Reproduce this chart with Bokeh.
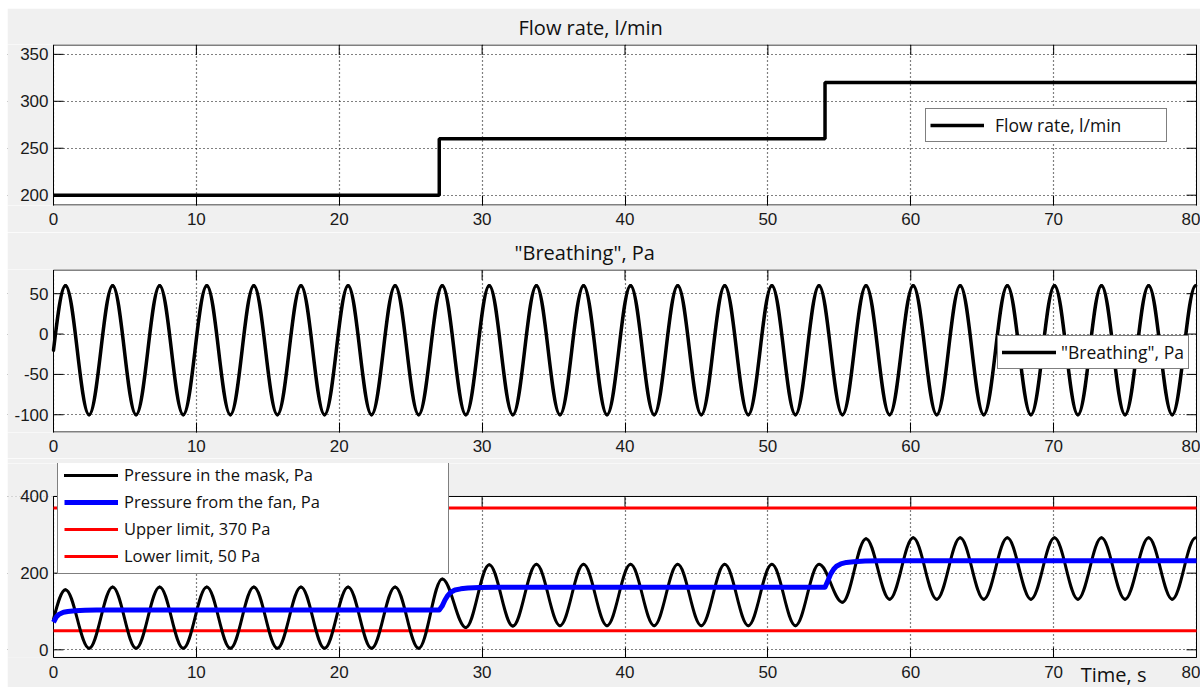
from bokeh.plotting import figure
from bokeh.layouts import column, row
from bokeh.models import (Range1d, FixedTicker, Legend, LegendItem,
                          Label, ColumnDataSource, Spacer)
from bokeh.core.properties import value
from bokeh.embed import file_html
from bokeh.resources import INLINE

# ---------------- data ----------------
x_ticks = [0, 10, 20, 30, 40, 50, 60, 70, 80]

# Flow rate, l/min (step changes)
flow_t = [0, 27, 54, 80]
flow_v = [200, 260, 320, 320]

# "Breathing", Pa : start value then alternating peaks / troughs
breath_t = [0, 0.84, 2.49, 4.14, 5.78, 7.43, 9.08, 10.73, 12.38, 14.02, 15.67,
            17.32, 18.97, 20.62, 22.26, 23.91, 25.56, 27.21, 28.86, 30.50, 32.15,
            33.80, 35.45, 37.10, 38.74, 40.39, 42.04, 43.69, 45.34, 46.98, 48.63,
            50.28, 51.93, 53.58, 55.22, 56.87, 58.52, 60.17, 61.82, 63.46, 65.11,
            66.76, 68.41, 70.06, 71.70, 73.35, 75.00, 76.65, 78.30, 79.94]
breath_v = [-20, 60, -100, 60, -100, 60, -100, 60, -100, 60, -100,
            60, -100, 60, -100, 60, -100, 60, -100, 60, -100,
            60, -100, 60, -100, 60, -100, 60, -100, 60, -100,
            60, -100, 60, -100, 60, -100, 60, -100, 60, -100,
            60, -100, 60, -100, 60, -100, 60, -100, 60]

# Pressure in the mask, Pa : same instants (start value then peaks / troughs)
mask_t = breath_t
mask_v = [80, 157, 4, 164, 4, 164, 4, 164, 4, 164, 4,
          164, 4, 164, 4, 164, 4, 185, 58, 222, 62,
          223, 63, 223, 63, 223, 63, 223, 63, 223, 63,
          223, 63, 223, 124, 290, 132, 292, 132, 292, 132,
          292, 132, 292, 132, 292, 132, 292, 132, 292]

# Pressure from the fan, Pa
fan_t = [0, 0.2, 0.4, 0.7, 1.0, 1.5, 2.2, 3.0, 27.0, 27.2, 27.4, 27.6, 27.8,
         28.1, 28.5, 29.0, 29.8, 31.0, 54.0, 54.2, 54.4, 54.6, 54.8, 55.1,
         55.5, 56.0, 56.8, 58.0, 80.0]
fan_v = [72, 86, 93, 98, 100, 102, 103, 104, 104, 114, 130, 142, 150,
         156, 159, 161, 162.5, 163, 163, 180, 198, 210, 218, 224,
         228, 230, 231.5, 232, 232]

limit_t = [0, 80]
upper_limit = 370
lower_limit = 50

# ---------------- style / layout ----------------
BG = "#f0f0f0"
W = 1193                    # figure width (page x 7 .. 1200)
BOX_LEFT, BOX_RIGHT = 46, 4  # room left / right of the axes box, px
PX_PER_T = (W - BOX_LEFT - BOX_RIGHT) / 80.0
XR = (-BOX_LEFT / PX_PER_T, 80 + BOX_RIGHT / PX_PER_T)
TICK_FONT = "Liberation Sans"
TEXT_FONT = "Open Sans"
TICK_COLOR = "#1a1a1a"
TICK_PX = 10
K = 0.36  # bezier handle fraction for sine-like arcs


def wave_source(ts, vs):
    n = len(ts) - 1
    d = dict(x0=[], y0=[], x1=[], y1=[], cx0=[], cy0=[], cx1=[], cy1=[])
    for i in range(n):
        xa, ya, xb, yb = ts[i], vs[i], ts[i + 1], vs[i + 1]
        dt = xb - xa
        d["x0"].append(xa); d["y0"].append(ya)
        d["x1"].append(xb); d["y1"].append(yb)
        if i == 0:
            d["cx0"].append(xa + dt / 3.0); d["cy0"].append(ya + 0.52 * (yb - ya))
        else:
            d["cx0"].append(xa + K * dt); d["cy0"].append(ya)
        d["cx1"].append(xb - K * dt); d["cy1"].append(yb)
    return ColumnDataSource(d)


def make_fig(height, yr, y_ticks, title, b_top, b_bottom, standoff, title_offset,
             box_y=None):
    """The drawing area spans the whole figure width; the MATLAB-like axes box is
    [0, 80] x box_y, and everything outside it is painted grey."""
    frame_h = height - b_top - b_bottom
    px_per_y = frame_h / float(yr[1] - yr[0])
    if box_y is None:
        half = 0.5 / px_per_y
        box_y = (yr[0] + half, yr[1] - half)
    p = figure(width=W, height=height, x_range=Range1d(*XR),
               y_range=Range1d(*yr), output_backend="svg",
               toolbar_location=None, min_border_left=0, min_border_right=0,
               min_border_top=b_top, min_border_bottom=b_bottom,
               background_fill_color="white", border_fill_color=BG,
               outline_line_color=None, title=title)
    if title is not None:
        p.title.align = "left"
        p.title.offset = title_offset
        p.title.text_font = TEXT_FONT
        p.title.text_font_size = "20px"
        p.title.text_font_style = "normal"
        p.title.text_color = "#111111"
        p.title.standoff = standoff

    ax = p.xaxis[0]
    ax.ticker = FixedTicker(ticks=x_ticks)
    ax.major_tick_in = TICK_PX
    ax.major_tick_out = 0
    ax.minor_tick_in = 0
    ax.minor_tick_out = 0
    ax.axis_line_color = None
    ax.major_tick_line_color = "black"
    ax.major_label_text_font = TICK_FONT
    ax.major_label_text_font_size = "17px"
    ax.major_label_text_color = TICK_COLOR
    ax.major_label_standoff = 7
    p.left = []  # y axis is drawn as ticks + text next to the box

    p.xgrid.ticker = FixedTicker(ticks=x_ticks)
    p.ygrid.ticker = FixedTicker(ticks=y_ticks)
    for g in (p.xgrid[0], p.ygrid[0]):
        g.grid_line_color = "black"
        g.grid_line_dash = "1 3"
        g.grid_line_width = 1.2

    # grey outside the axes box
    gl = [XR[0], 80, XR[0], XR[0]]
    gr = [0, XR[1], XR[1], XR[1]]
    gb = [box_y[0], box_y[0], box_y[1], yr[0]]
    gt = [box_y[1], box_y[1], yr[1], box_y[0]]
    p.quad(left=gl, right=gr, bottom=gb, top=gt, fill_color=BG, line_color=None)
    p.quad(left=[0], right=[80], bottom=[box_y[0]], top=[box_y[1]],
           fill_color=None, line_color="black", line_width=1)

    # inward ticks on all four sides of the box
    dy = TICK_PX / px_per_y
    dx = TICK_PX / PX_PER_T
    n, m = len(x_ticks), len(y_ticks)
    p.segment(x0=x_ticks, y0=[box_y[1]] * n, x1=x_ticks, y1=[box_y[1] - dy] * n,
              line_color="black", line_width=1, level="guide")
    p.segment(x0=[80] * m, y0=y_ticks, x1=[80 - dx] * m, y1=y_ticks,
              line_color="black", line_width=1, level="guide")
    p.segment(x0=[0] * m, y0=y_ticks, x1=[dx] * m, y1=y_ticks,
              line_color="black", line_width=1, level="guide")
    p.text(x=[-5 / PX_PER_T] * m, y=y_ticks, text=[str(t) for t in y_ticks],
           text_align="right", text_baseline="middle", text_font=value(TICK_FONT),
           text_font_size="17px", text_color=TICK_COLOR, level="guide")
    return p


def style_legend(lg, font_size, standoff, label_width, padding):
    lg.border_line_color = "black"
    lg.border_line_width = 1
    lg.background_fill_color = "white"
    lg.background_fill_alpha = 1.0
    lg.label_text_font = TEXT_FONT
    lg.label_text_font_size = font_size
    lg.label_text_color = "#111111"
    lg.glyph_width = 54
    lg.glyph_height = 20
    lg.label_height = 20
    lg.label_standoff = standoff
    lg.label_width = label_width
    lg.padding = padding
    lg.spacing = 4
    lg.margin = 0


# ---------------- panel 1: flow rate ----------------
p1 = make_fig(224, (189, 360.5), [200, 250, 300, 350], "Flow rate, l/min",
              36, 27, 7, 511)
r_flow = p1.step(flow_t, flow_v, mode="after", line_color="black", line_width=3.5)
lg1 = Legend(items=[LegendItem(label="Flow rate, l/min", renderers=[r_flow])],
             location=(BOX_LEFT + 872, 63))
style_legend(lg1, "17.5px", 11, 167, 4)
p1.add_layout(lg1)

# ---------------- panel 2: breathing ----------------
p2 = make_fig(226, (-122, 80), [-100, -50, 0, 50], "\"Breathing\", Pa",
              36, 26, 8, 507)
r_breath = p2.bezier(x0="x0", y0="y0", x1="x1", y1="y1", cx0="cx0", cy0="cy0",
                     cx1="cx1", cy1="cy1", source=wave_source(breath_t, breath_v),
                     line_color="black", line_width=3.5, line_cap="round")
lg2 = Legend(items=[LegendItem(label="\"Breathing\", Pa", renderers=[r_breath])],
             location=(BOX_LEFT + 944, 63))
style_legend(lg2, "17.5px", 5, 100, 4)
p2.add_layout(lg2)

# ---------------- panel 3: pressures ----------------
# box is [-20, 400]; the drawing area also reaches above (legend) and below
# (tick labels, "Time, s") the box.
box3_y = (-20, 400)
p3 = make_fig(229, (-98.3, 486), [0, 200, 400], None, 5, 0, 0, 0, box_y=box3_y)
p3.xaxis[0].fixed_location = box3_y[0]
p3.xaxis[0].major_label_standoff = 9

r_up = p3.line(limit_t, [upper_limit, upper_limit], line_color="#ff0000", line_width=3)
r_lo = p3.line(limit_t, [lower_limit, lower_limit], line_color="#ff0000", line_width=3)
r_mask = p3.bezier(x0="x0", y0="y0", x1="x1", y1="y1", cx0="cx0", cy0="cy0",
                   cx1="cx1", cy1="cy1", source=wave_source(mask_t, mask_v),
                   line_color="black", line_width=3, line_cap="round")
r_fan = p3.line(fan_t, fan_v, line_color="#0000ff", line_width=5, line_join="round")
lg3 = Legend(items=[LegendItem(label="Pressure in the mask, Pa", renderers=[r_mask]),
                    LegendItem(label="Pressure from the fan, Pa", renderers=[r_fan]),
                    LegendItem(label="Upper limit, 370 Pa", renderers=[r_up]),
                    LegendItem(label="Lower limit, 50 Pa", renderers=[r_lo])],
             location=(BOX_LEFT + 4, 113))
style_legend(lg3, "16.5px", 6, 318, 6)
p3.add_layout(lg3)

p3.add_layout(Label(x=71.9, y=-64, text="Time, s", text_font=TEXT_FONT,
                    text_font_size="20px", text_color="#111111",
                    text_baseline="alphabetic", text_align="left"))

layout = row(Spacer(width=7), column(Spacer(height=8), p1, p2, p3, spacing=0), spacing=0)
open("out.html", "w").write(file_html(layout, INLINE))
